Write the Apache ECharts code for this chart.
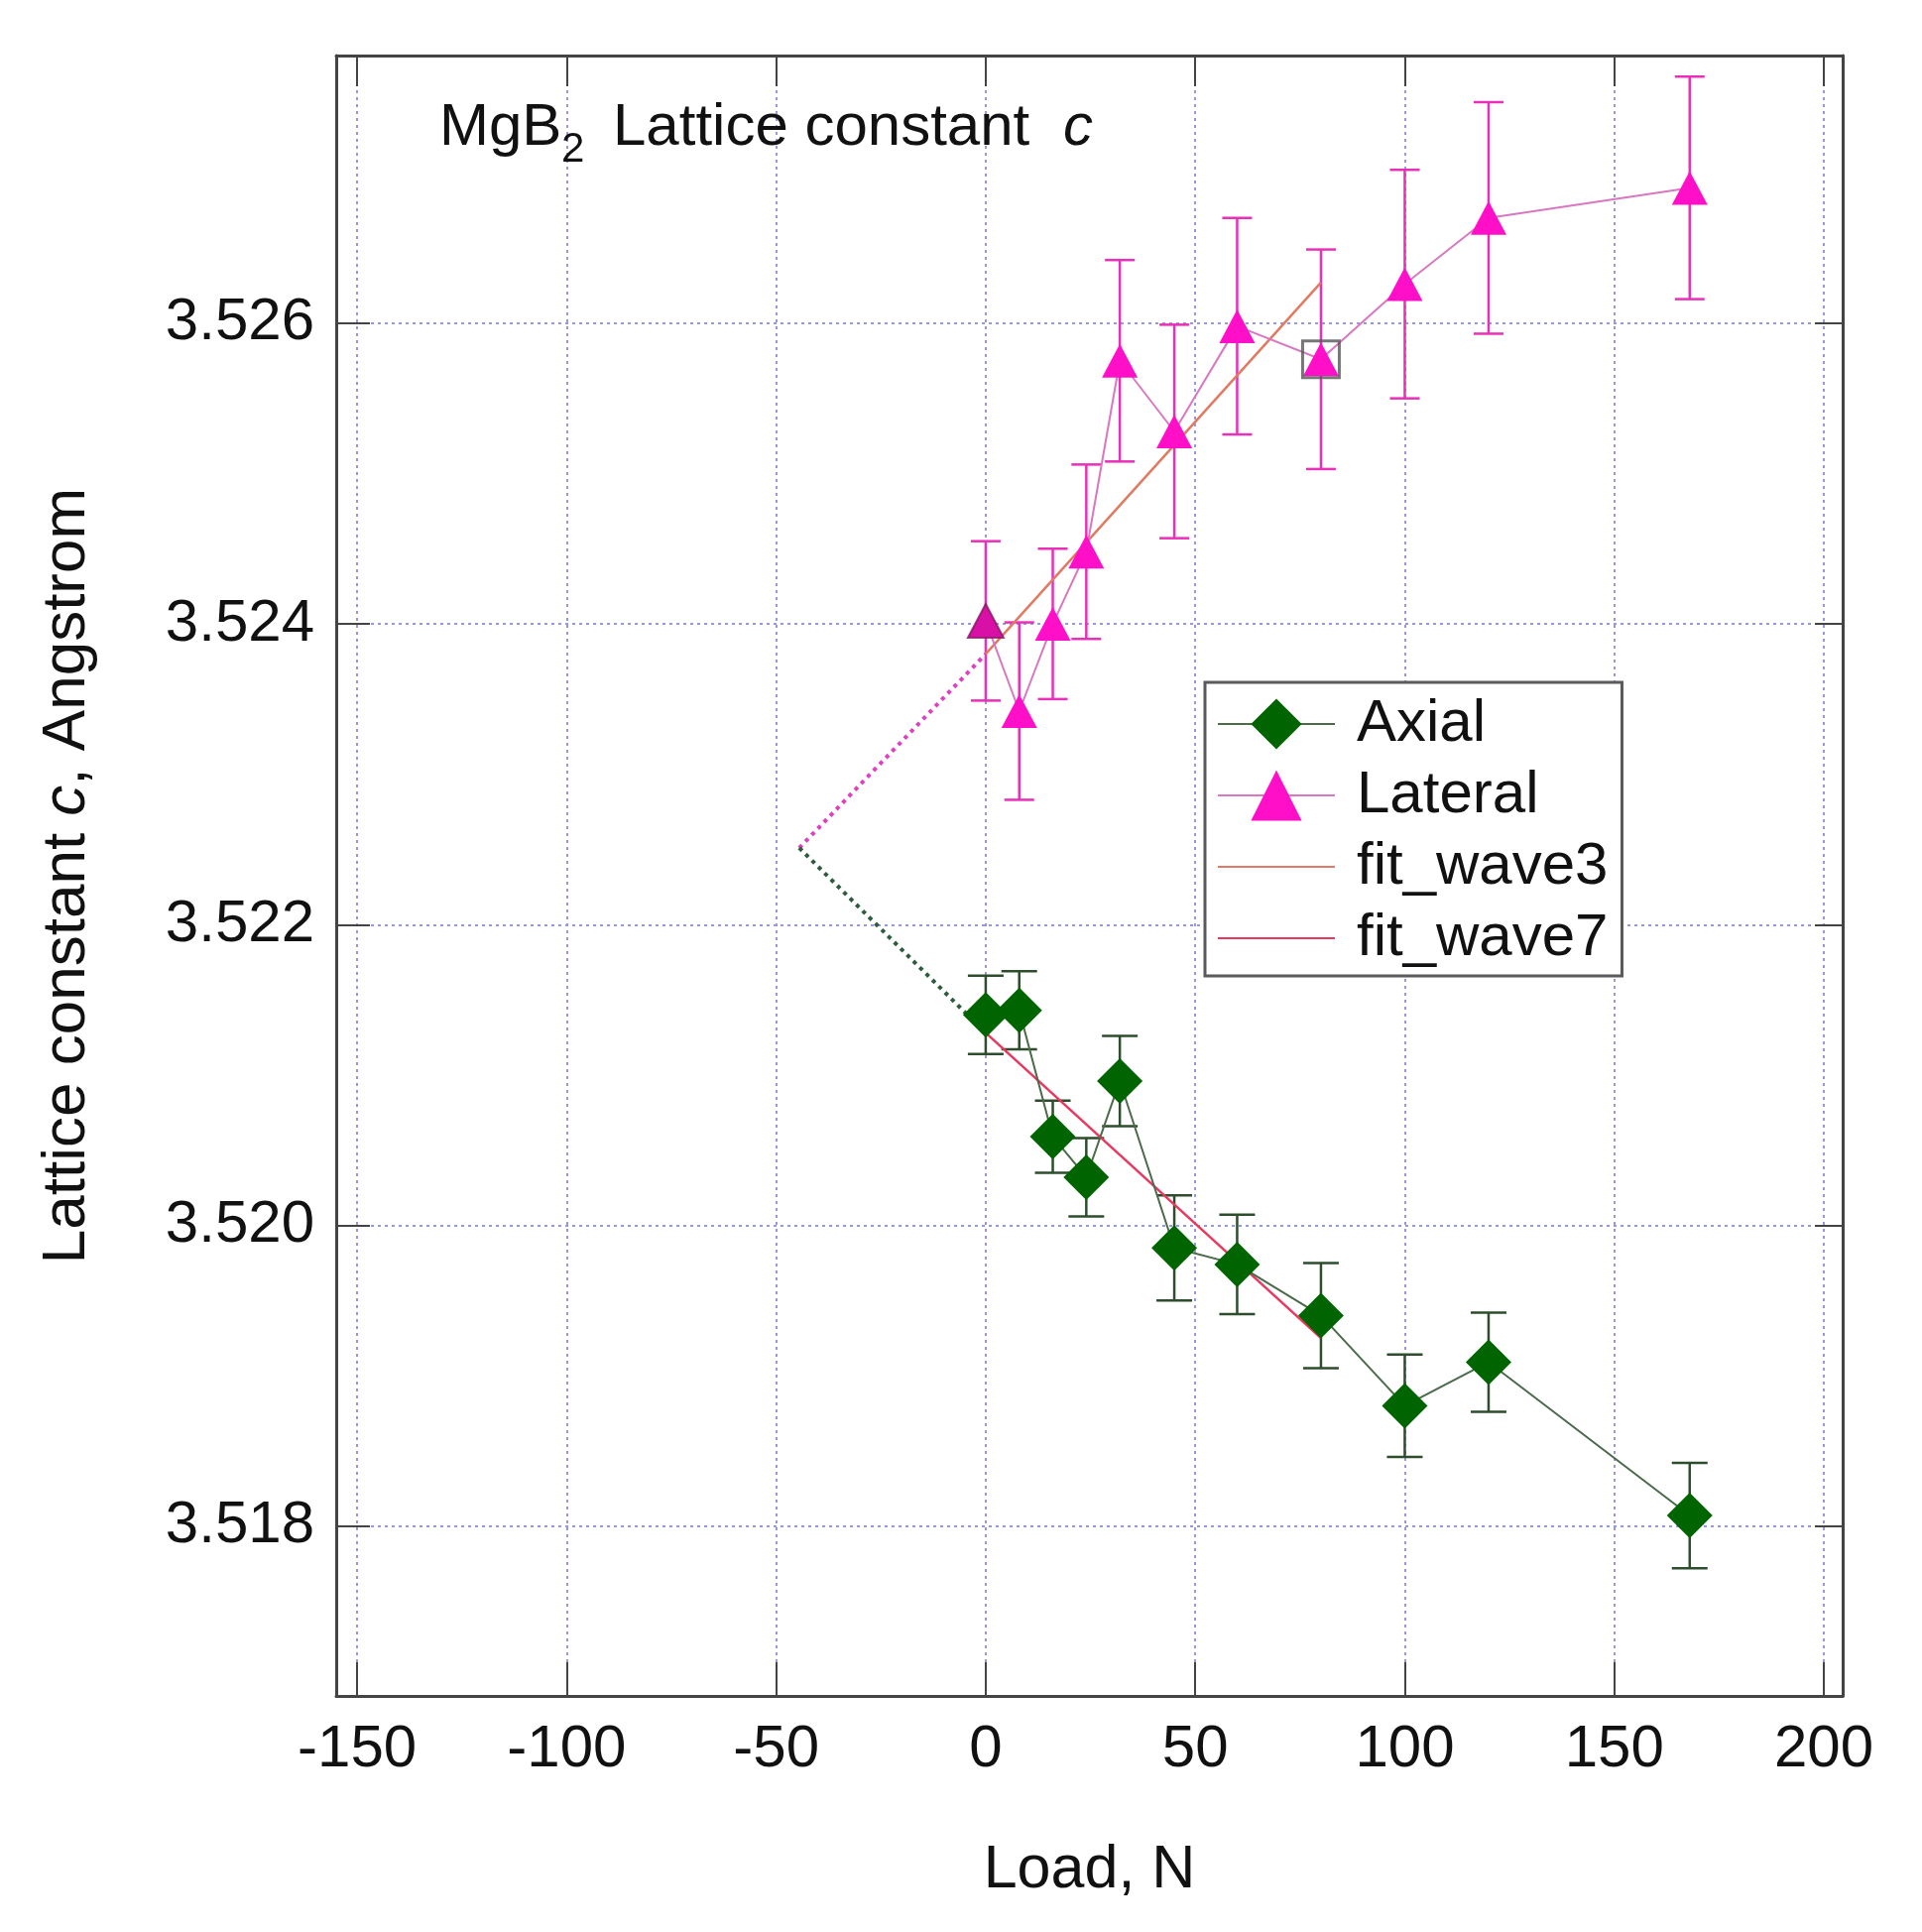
<!DOCTYPE html>
<html><head><meta charset="utf-8">
<script src="https://cdn.jsdelivr.net/npm/echarts@6/dist/echarts.min.js"></script>
<style>html,body{margin:0;padding:0;background:#fff}#c{width:1938px;height:1948px}</style>
</head><body><div id="c"></div>
<script>
const loads = [0, 8, 16, 24, 32, 45, 60, 80, 100, 120, 168];
const axial = [3.52140, 3.52143, 3.52059, 3.52032, 3.52096, 3.51985, 3.51974, 3.51940, 3.51880, 3.51909, 3.51807];
const axialErr = [0.00026, 0.00026, 0.00024, 0.00026, 0.00030, 0.00035, 0.00033, 0.00035, 0.00034, 0.00033, 0.00035];
const lateral = [3.52402, 3.52342, 3.52400, 3.52448, 3.52575, 3.52528, 3.52598, 3.52576, 3.52626, 3.52670, 3.52690];
const lateralErr = [0.00053, 0.00059, 0.00050, 0.00058, 0.00067, 0.00071, 0.00072, 0.00073, 0.00076, 0.00077, 0.00074];
const fitWave3 = [[0, 3.52380], [80, 3.52627]];
const fitWave7 = [[0, 3.52128], [80, 3.51925]];
const lateralExt = [[-44.5, 3.52251], [0, 3.52380]];
const axialExt = [[-44.5, 3.52251], [0, 3.52128]];
const cursorA = [[0, 3.52402]];
const cursorB = [[80, 3.52576]];
const xTicks = [-150, -100, -50, 0, 50, 100, 150, 200];
const yTicks = [3.518, 3.520, 3.522, 3.524, 3.526];

const FONT = '"Liberation Sans", Arial, sans-serif';
const X_MIN = -155, X_MAX = 204.5, Y_MIN = 3.51687, Y_MAX = 3.52778;

function pairs(xs, ys) { return xs.map((x, i) => [x, ys[i]]); }
function errData(xs, ys, es) { return xs.map((x, i) => [x, ys[i] - es[i], ys[i] + es[i]]); }
function makeErr(cap, color, w) {
  return function (params, api) {
    const x = api.value(0);
    const lo = api.coord([x, api.value(1)]);
    const hi = api.coord([x, api.value(2)]);
    const h = cap / 2;
    const st = { stroke: color, lineWidth: w };
    return { type: 'group', children: [
      { type: 'line', shape: { x1: lo[0], y1: lo[1], x2: hi[0], y2: hi[1] }, style: st },
      { type: 'line', shape: { x1: lo[0] - h, y1: lo[1], x2: lo[0] + h, y2: lo[1] }, style: st },
      { type: 'line', shape: { x1: hi[0] - h, y1: hi[1], x2: hi[0] + h, y2: hi[1] }, style: st }
    ]};
  };
}

const axisLineStyle = { color: '#444', width: 3 };
const tickStyle = { color: '#444', width: 2 };
const gridLine = { show: true, lineStyle: { color: '#9898e0', type: [3, 4], width: 2 } };

const chart = echarts.init(document.getElementById('c'), null, { renderer: 'canvas' });
chart.setOption({
  animation: false,
  backgroundColor: '#fff',
  textStyle: { fontFamily: FONT },
  grid: { left: 339, right: 80, top: 56, bottom: 238, containLabel: false },
  graphic: [
    { type: 'text', x: 443, y: 129, z: 100, style: { text: 'MgB', fontSize: 60, fontFamily: FONT, fill: '#111', verticalAlign: 'middle', align: 'left' } },
    { type: 'text', x: 566, y: 151, z: 100, style: { text: '2', fontSize: 42, fontFamily: FONT, fill: '#111', verticalAlign: 'middle', align: 'left' } },
    { type: 'text', x: 618, y: 129, z: 100, style: { text: 'Lattice constant', fontSize: 60, fontFamily: FONT, fill: '#111', verticalAlign: 'middle', align: 'left' } },
    { type: 'text', x: 1072, y: 129, z: 100, style: { text: 'c', fontSize: 60, fontStyle: 'italic', fontFamily: FONT, fill: '#111', verticalAlign: 'middle', align: 'left' } }
  ],
  legend: {
    orient: 'vertical', left: 1215, top: 688,
    padding: [12, 14, 8, 12],
    itemWidth: 118, itemHeight: 64, itemGap: 12,
    borderColor: '#5a5a5a', borderWidth: 3, backgroundColor: '#fff',
    textStyle: { fontSize: 60, fontFamily: FONT, color: '#111', padding: [0, 0, 0, 17] },
    data: [
      { name: 'Axial' },
      { name: 'Lateral' },
      { name: 'fit_wave3', itemStyle: { opacity: 0 } },
      { name: 'fit_wave7', itemStyle: { opacity: 0 } }
    ]
  },
  xAxis: [{
    type: 'value', min: X_MIN, max: X_MAX, position: 'bottom',
    axisLine: { show: true, onZero: false, lineStyle: axisLineStyle },
    axisTick: { show: true, inside: true, length: 34, customValues: xTicks, lineStyle: tickStyle },
    axisLabel: { show: true, customValues: xTicks, fontSize: 60, fontFamily: FONT, color: '#111', margin: 24 },
    splitLine: gridLine,
    name: 'Load, N', nameLocation: 'middle', nameGap: 146, nameMoveOverlap: false,
    nameTextStyle: { fontSize: 61, fontFamily: FONT, color: '#111' }
  }, {
    type: 'value', min: X_MIN, max: X_MAX, position: 'top',
    axisLine: { show: true, onZero: false, lineStyle: axisLineStyle },
    axisTick: { show: true, inside: true, length: 31, customValues: xTicks, lineStyle: tickStyle },
    axisLabel: { show: false }, splitLine: { show: false }
  }],
  yAxis: [{
    type: 'value', min: Y_MIN, max: Y_MAX, position: 'left',
    axisLine: { show: true, onZero: false, lineStyle: axisLineStyle },
    axisTick: { show: true, inside: true, length: 34, customValues: yTicks, lineStyle: tickStyle },
    axisLabel: { show: true, customValues: yTicks, formatter: v => Number(v).toFixed(3), fontSize: 60, fontFamily: FONT, color: '#111', margin: 22 },
    splitLine: gridLine,
    name: 'Lattice constant {i|c}, Angstrom', nameLocation: 'middle', nameGap: 240, nameMoveOverlap: false,
    nameTextStyle: { fontSize: 62, fontFamily: FONT, color: '#111', rich: { i: { fontSize: 62, fontStyle: 'italic', fontFamily: FONT, color: '#111' } } }
  }, {
    type: 'value', min: Y_MIN, max: Y_MAX, position: 'right',
    axisLine: { show: true, onZero: false, lineStyle: axisLineStyle },
    axisTick: { show: true, inside: true, length: 28, customValues: yTicks, lineStyle: tickStyle },
    axisLabel: { show: false }, splitLine: { show: false }
  }],
  series: [
    { type: 'custom', name: 'axialErr', silent: true, z: 2, data: errData(loads, axial, axialErr), encode: { x: 0, y: [1, 2] }, renderItem: makeErr(36, '#2d4d2d', 2.5) },
    { type: 'custom', name: 'lateralErr', silent: true, z: 2, data: errData(loads, lateral, lateralErr), encode: { x: 0, y: [1, 2] }, renderItem: makeErr(30, '#e830b8', 2.5) },
    { type: 'line', name: 'lateralExt', data: lateralExt, symbol: 'none', z: 3, lineStyle: { color: '#e040c0', width: 4, type: [4, 5] } },
    { type: 'line', name: 'axialExt', data: axialExt, symbol: 'none', z: 3, lineStyle: { color: '#2d5d3d', width: 4, type: [4, 5] } },
    { type: 'line', name: 'fit_wave3', data: fitWave3, symbol: 'none', z: 3, lineStyle: { color: '#e07a62', width: 2.5 }, itemStyle: { color: '#c8605a' } },
    { type: 'line', name: 'fit_wave7', data: fitWave7, symbol: 'none', z: 3, lineStyle: { color: '#e83860', width: 2.5 }, itemStyle: { color: '#e83860' } },
    { type: 'line', name: 'Axial', data: pairs(loads, axial), symbol: 'diamond', symbolSize: 46, z: 4,
      lineStyle: { color: '#4a6a4a', width: 2 }, itemStyle: { color: '#006400', opacity: 1 } },
    { type: 'line', name: 'Lateral', data: pairs(loads, lateral), symbol: 'triangle', symbolSize: [36, 34], z: 4,
      lineStyle: { color: '#d878c0', width: 2 }, itemStyle: { color: '#ff10c8', opacity: 1 } },
    { type: 'scatter', name: 'cursorA', data: cursorA, symbol: 'triangle', symbolSize: [36, 34], z: 5, silent: true,
      itemStyle: { color: '#d0109e', borderColor: '#8a1a66', borderWidth: 2 } },
    { type: 'scatter', name: 'cursorB', data: cursorB, symbol: 'rect', symbolSize: 37, z: 5, silent: true,
      itemStyle: { color: 'rgba(0,0,0,0)', borderColor: '#555', borderWidth: 3 } }
  ]
});
</script></body></html>
